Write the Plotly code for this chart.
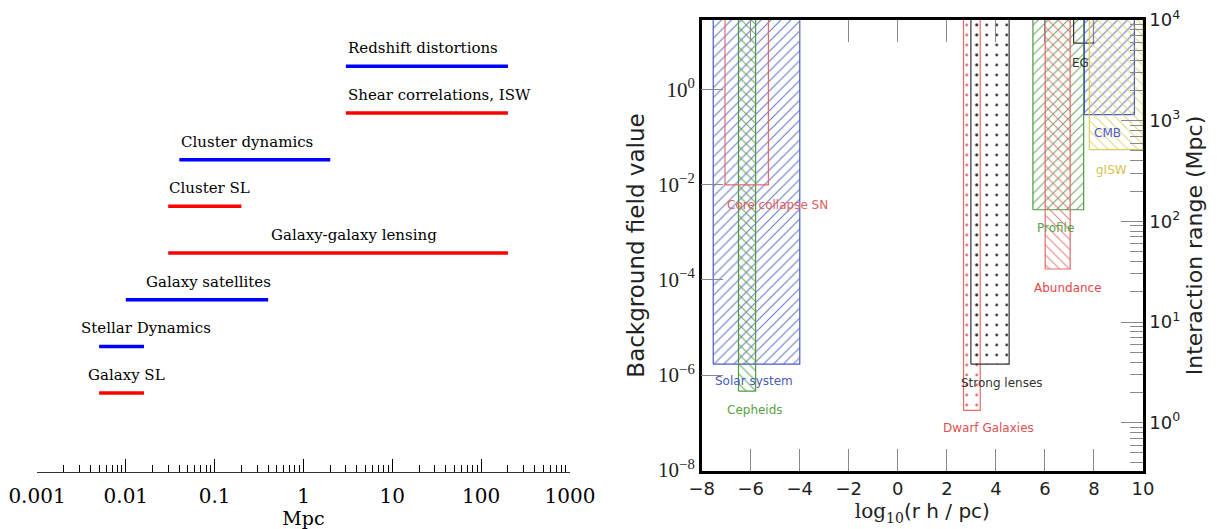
import numpy as np
import plotly.graph_objects as go

# ---------------- left panel data ----------------
methods = ["Redshift distortions", "Shear correlations, ISW", "Cluster dynamics",
           "Cluster SL", "Galaxy-galaxy lensing", "Galaxy satellites",
           "Stellar Dynamics", "Galaxy SL"]
r_min_mpc = [3, 3, 0.04, 0.03, 0.03, 0.01, 0.005, 0.005]
r_max_mpc = [200, 200, 2, 0.2, 200, 0.4, 0.016, 0.016]
method_kind = ["dynamics", "lensing", "dynamics", "lensing", "lensing",
               "dynamics", "dynamics", "lensing"]
label_x_mpc = [3, 3, 0.04, 0.029, 0.41, 0.016, 0.003, 0.0036]
mpc_ticks = [0.001, 0.01, 0.1, 1, 10, 100, 1000]
mpc_ticktext = ["0.001", "0.01", "0.1", "1", "10", "100", "1000"]

# ---------------- right panel data ----------------
probes = ["Solar system", "Cepheids", "Core collapse SN", "Dwarf Galaxies",
          "Strong lenses", "Profile", "Abundance", "EG", "CMB", "gISW"]
logr_lo = [-7.53, -6.5, -7.05, 2.68, 2.98, 5.51, 6.01, 7.17, 7.61, 7.81]
logr_hi = [-4.0, -5.8, -5.28, 3.36, 4.54, 7.58, 7.03, 7.98, 9.65, 10.0]
field_min = [1.7e-6, 4.6e-7, 1e-2, 1.8e-7, 1.7e-6, 3e-3, 1.7e-4, 9.6, 0.3, 0.055]
label_logr = [-7.55, -7.05, -7.05, 1.77, 2.5, 5.6, 5.48, 7.03, 7.93, 8.01]
label_field = [10**-6.13, 10**-6.74, 10**-2.42, 10**-7.12, 10**-6.17,
               10**-2.91, 10**-4.17, 10**0.57, 10**-0.9, 10**-1.68]
field_ticks = [1e-8, 1e-6, 1e-4, 1e-2, 1]
field_ticktext = ["10<sup>−8</sup>", "10<sup>−6</sup>", "10<sup>−4</sup>",
                  "10<sup>−2</sup>", "10<sup>0</sup>"]
range_ticks = [1, 10, 100, 1000, 10000]
range_ticktext = ["10<sup>0</sup>", "10<sup>1</sup>", "10<sup>2</sup>",
                  "10<sup>3</sup>", "10<sup>4</sup>"]
FIELD_TOP = 1e3

# ---------------- styles ----------------
kind_color = {"dynamics": "#0000ff", "lensing": "#ff0000"}
BLUE, GREEN, RED, YEL, BLK = "#4a5cc0", "#4c9a40", "#e36a6a", "#d9cb5e", "#333333"
probe_style = {
    "Solar system": (BLUE, "/", "#4a5cb5"),
    "Cepheids": (GREEN, "\\", "#5aa045"),
    "Core collapse SN": (RED, "", "#e06060"),
    "Dwarf Galaxies": (RED, ".", "#e05050"),
    "Strong lenses": (BLK, ".", "#333333"),
    "Profile": (GREEN, "/", "#5aa045"),
    "Abundance": (RED, "\\", "#e04848"),
    "EG": (BLK, "", "#333333"),
    "CMB": (BLUE, "/", "#4a5cc0"),
    "gISW": (YEL, "\\", "#d4c450"),
}

W, H = 1217, 529
fig = go.Figure()

# left panel lines
n = len(methods)
for i, m in enumerate(methods):
    yv = n - 1 - i
    fig.add_trace(go.Scatter(
        x=[r_min_mpc[i], r_max_mpc[i]], y=[yv, yv], mode="lines",
        line=dict(color=kind_color[method_kind[i]], width=3.5),
        xaxis="x", yaxis="y", hoverinfo="skip"))
    fig.add_annotation(
        x=np.log10(label_x_mpc[i]), y=yv, xref="x", yref="y", text=m,
        showarrow=False, xanchor="left", yanchor="middle", yshift=18,
        font=dict(family="DejaVu Serif", size=15, color="black"))

# right panel boxes
for i, p in enumerate(probes):
    edge, shape, tcol = probe_style[p]
    x0, x1, y0 = logr_lo[i], logr_hi[i], field_min[i]
    kw = {}
    if shape:
        if shape == ".":
            kw["fillpattern"] = dict(shape=".", fgcolor=edge, bgcolor="rgba(0,0,0,0)",
                                     size=10, solidity=0.06, fillmode="replace")
        else:
            kw["fillpattern"] = dict(shape=shape, fgcolor=edge, bgcolor="rgba(0,0,0,0)",
                                     size=7, solidity=0.15, fgopacity=0.85,
                                     fillmode="replace")
    fig.add_trace(go.Scatter(
        x=[x0, x1, x1, x0, x0], y=[y0, y0, FIELD_TOP, FIELD_TOP, y0],
        mode="lines", fill="toself", fillcolor="rgba(0,0,0,0)",
        line=dict(color=edge, width=1.2), xaxis="x2", yaxis="y2",
        hoverinfo="skip", **kw))
    fig.add_annotation(
        x=label_logr[i], y=np.log10(label_field[i]), xref="x2", yref="y2",
        text=p, showarrow=False, xanchor="left", yanchor="middle",
        font=dict(family="DejaVu Sans", size=12, color=tcol))

# dummy trace for right axis
fig.add_trace(go.Scatter(x=[0], y=[10], mode="markers", marker=dict(opacity=0),
                         xaxis="x2", yaxis="y3", hoverinfo="skip"))

minor_range = [m * 10**k for k in range(-1, 4) for m in range(2, 10)]

fig.update_layout(
    width=W, height=H, margin=dict(l=0, r=0, t=0, b=0, autoexpand=False),
    paper_bgcolor="white", plot_bgcolor="white", showlegend=False,
    xaxis=dict(
        type="log", domain=[37 / W, 570 / W], range=[-3, 3], anchor="y",
        automargin=False,
        tickvals=mpc_ticks, ticktext=mpc_ticktext, ticks="inside", ticklen=13,
        tickwidth=1, tickcolor="black", showline=True, linecolor="#333333", linewidth=1,
        showgrid=False, zeroline=False, ticklabelstandoff=6,
        tickfont=dict(family="DejaVu Serif", size=20, color="black"),
        minor=dict(ticks="inside", ticklen=7, tickwidth=1, tickcolor="black",
                   dtick="D1", showgrid=False),
        title=dict(text="Mpc", standoff=7,
                   font=dict(family="DejaVu Serif", size=19, color="black"))),
    yaxis=dict(domain=[1 - 472 / H, 1], range=[-1.69, 8.42], anchor="x",
               automargin=False,
               visible=False, showgrid=False, zeroline=False),
    xaxis2=dict(
        domain=[701.7 / W, 1143 / W], range=[-8, 10], anchor="y2", dtick=2, tick0=0,
        automargin=False,
        ticks="inside", ticklen=22, tickwidth=1.3, tickcolor="#888888",
        showline=True, linecolor="black", linewidth=2.5, mirror="ticks",
        showgrid=False, zeroline=False,
        tickfont=dict(family="DejaVu Sans", size=18, color="#222222"),
        title=dict(text="<span style=\"font-family:'DejaVu Serif'\">log<sub>10</sub></span>(r h / pc)",
                   standoff=6, font=dict(family="DejaVu Sans", size=20, color="#222222"))),
    yaxis2=dict(
        type="log", domain=[1 - 471 / H, 1 - 20 / H], range=[-8.02, 1.47], anchor="x2",
        automargin=False,
        tickvals=field_ticks, ticktext=field_ticktext, ticks="inside", ticklen=22,
        tickwidth=1.3, tickcolor="#888888", showline=True, linecolor="black",
        linewidth=2.5, showgrid=False, zeroline=False,
        tickfont=dict(family="Liberation Serif", size=21, color="#222222"),
        title=dict(text="Background field value", standoff=8,
                   font=dict(family="DejaVu Sans", size=23, color="#222222"))),
    yaxis3=dict(
        type="log", overlaying="y2", side="right", anchor="x2", range=[-0.48, 4.0],
        automargin=False,
        tickvals=range_ticks, ticktext=range_ticktext, ticks="inside", ticklen=22,
        tickwidth=1.3, tickcolor="#888888", showline=True, linecolor="black",
        linewidth=2.5, showgrid=False, zeroline=False,
        minor=dict(ticks="inside", ticklen=13, tickwidth=1, tickcolor="#888888",
                   tickmode="array", tickvals=minor_range, showgrid=False),
        tickfont=dict(family="DejaVu Sans", size=18, color="#222222"),
        title=dict(text="Interaction range (Mpc)", standoff=8,
                   font=dict(family="DejaVu Sans", size=22, color="#222222"))),
)

fig.write_html("out.html", config={"displayModeBar": False},
               post_script="document.body.style.margin='0px';")
